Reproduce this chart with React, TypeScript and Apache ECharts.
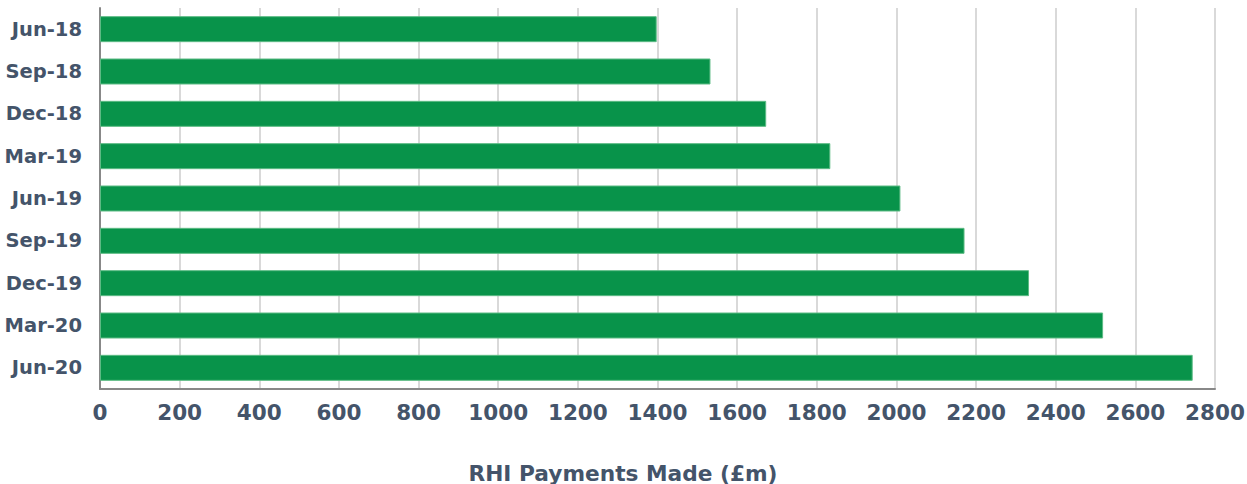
import React, { useEffect, useRef } from "react";
import * as echarts from "echarts";

const categories = ["Jun-18", "Sep-18", "Dec-18", "Mar-19", "Jun-19", "Sep-19", "Dec-19", "Mar-20", "Jun-20"];
const payments = [1398, 1533, 1673, 1834, 2010, 2171, 2333, 2519, 2744];
const axisTitle = "RHI Payments Made (£m)";

export default function App() {
  const ref = useRef<HTMLDivElement>(null);
  useEffect(() => {
    if (!ref.current) return;
    const chart = echarts.init(ref.current, null, { renderer: "svg" });
    const textColor = "#44546A";
    chart.setOption({
      animation: false,
      grid: { left: 100, top: 8, width: 1115, height: 381, containLabel: false, outerBoundsMode: "none" },
      graphic: [
        {
          type: "text",
          x: 623,
          y: 473,
          style: {
            text: axisTitle,
            fill: textColor,
            font: "bold 21.7px 'DejaVu Sans'",
            align: "center",
            verticalAlign: "middle",
          },
        },
      ],
      xAxis: {
        type: "value",
        min: 0,
        max: 2800,
        interval: 200,
        axisLine: { show: true, lineStyle: { color: "#888888", width: 2 } },
        axisTick: { show: false },
        axisLabel: {
          color: textColor,
          fontFamily: "DejaVu Sans",
          fontWeight: "bold",
          fontSize: 21.5,
          margin: 12,
          formatter: (v: number) => String(v),
        },
        splitLine: { show: true, lineStyle: { color: "#D9D9D9", width: 2 } },
      },
      yAxis: {
        type: "category",
        data: categories,
        inverse: true,
        axisLine: { show: true, lineStyle: { color: "#888888", width: 2 } },
        axisTick: { show: false },
        axisLabel: { color: textColor, fontFamily: "DejaVu Sans", fontWeight: "bold", fontSize: 19.5, margin: 18 },
        splitLine: { show: false },
      },
      series: [
        {
          type: "bar",
          data: payments,
          barWidth: 26,
          itemStyle: { color: "#08934A", borderColor: "#5CBB84", borderWidth: 1 },
        },
      ],
    });
    return () => chart.dispose();
  }, []);
  return (
    <div
      ref={ref}
      style={{ position: "fixed", left: 0, top: 0, width: 1247, height: 484, background: "#ffffff" }}
    />
  );
}
